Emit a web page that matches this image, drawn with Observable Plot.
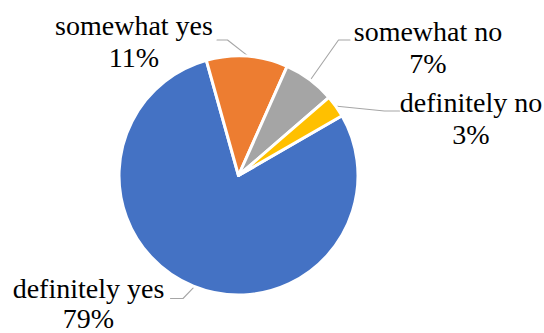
<!DOCTYPE html>
<html>
<head>
<meta charset="utf-8">
<script src="https://cdn.jsdelivr.net/npm/d3@7"></script>
<script src="https://cdn.jsdelivr.net/npm/@observablehq/plot@0.6"></script>
<style>
  html, body { margin: 0; padding: 0; background: #fff; }
  #chart svg { display: block; }
  #chart svg text { font-family: "Liberation Serif", "Times New Roman", serif !important; }
</style>
</head>
<body>
<div id="chart"></div>
<script>
// ---- data ----
const categories = ["definitely yes", "somewhat yes", "somewhat no", "definitely no"];
const percents = [79, 11, 7, 3];
const colors = ["#4472C4", "#ED7D31", "#A5A5A5", "#FFC000"];

// ---- layout (manual label placement, like the original) ----
const W = 544, H = 333;
const center = {x: 238.5, y: 175.5};
const radius = 119.5;
const firstSliceAngle = 60; // degrees, clockwise from 12 o'clock
const labelLayout = {
  "definitely yes": {x: 88,    y: 327, lh: 1.06, elbow: [182.5, 298],  end: [170, 298]},
  "somewhat yes":   {x: 133.5, y: 66,  lh: 1.143, elbow: [227, 39.5],   end: [216.5, 39.5]},
  "somewhat no":    {x: 427.5, y: 72,  lh: 1.143, elbow: [338, 39.5],   end: [349.5, 39.5]},
  "definitely no":  {x: 470.5, y: 143, lh: 1.143, elbow: [384, 110.5],  end: [399, 110.5]}
};

const rows = categories.map((c, i) => ({category: c, value: percents[i], color: colors[i]}));
const a0 = firstSliceAngle * Math.PI / 180;
const arcs = d3.pie().sort(null).value(d => d.value).startAngle(a0).endAngle(a0 + 2 * Math.PI)(rows);

// leader lines: from the slice's mid-angle on the rim to the label
const leaders = arcs.flatMap(a => {
  const mid = (a.startAngle + a.endAngle) / 2;
  const L = labelLayout[a.data.category];
  const r = radius + 1;
  return [
    {category: a.data.category, x: center.x + r * Math.sin(mid), y: center.y - r * Math.cos(mid)},
    {category: a.data.category, x: L.elbow[0], y: L.elbow[1]},
    {category: a.data.category, x: L.end[0], y: L.end[1]}
  ];
});

const labelMarks = rows.map(d => {
  const L = labelLayout[d.category];
  return Plot.text([{text: `${d.category}\n${d.value}%`, x: L.x, y: L.y}], {
    x: "x", y: "y", text: "text",
    textAnchor: "middle",
    lineAnchor: "bottom",
    lineHeight: L.lh,
    fontSize: 28,
    fontFamily: "Liberation Serif, serif",
    fill: "#000"
  });
});

// pie slices rendered with d3.arc, positioned through Plot's scales
function pieMark(index, scales, values, dimensions, context) {
  const doc = (context && context.document) || document;
  const g = d3.select(doc.createElementNS("http://www.w3.org/2000/svg", "g"));
  const cx = scales.x(center.x), cy = scales.y(center.y);
  const arcGen = d3.arc().innerRadius(0).outerRadius(radius);
  g.attr("transform", `translate(${cx},${cy})`);
  g.selectAll("path")
    .data(arcs)
    .join("path")
    .attr("d", arcGen)
    .attr("fill", d => d.data.color)
    .attr("stroke", "#fff")
    .attr("stroke-width", 3)
    .attr("stroke-linejoin", "round");
  return g.node();
}

const chart = Plot.plot({
  width: W,
  height: H,
  margin: 0,
  x: {domain: [0, W], range: [0, W], axis: null},
  y: {domain: [0, H], range: [0, H], axis: null},
  style: {background: "#fff", fontFamily: "Liberation Serif, serif"},
  marks: [
    Plot.line(leaders, {x: "x", y: "y", z: "category", stroke: "#A6A6A6", strokeWidth: 1.1}),
    pieMark,
    ...labelMarks
  ]
});

document.getElementById("chart").appendChild(chart);
</script>
</body>
</html>
